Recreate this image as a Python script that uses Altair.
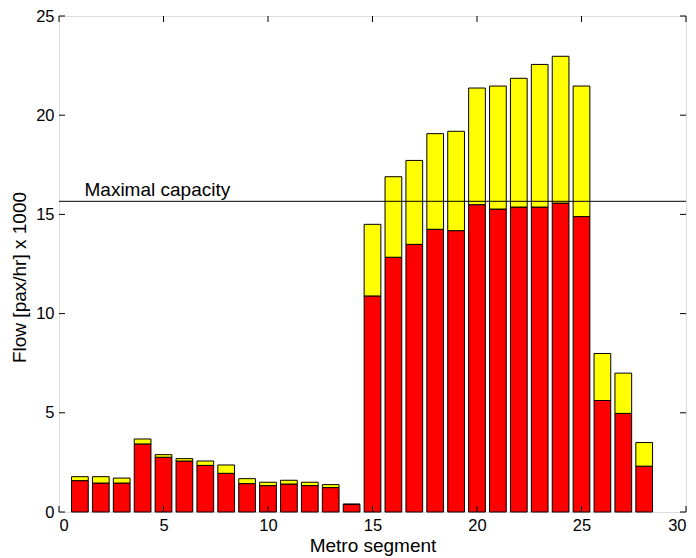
import altair as alt
import pandas as pd

segments = list(range(1, 29))
red_vals = [1.58, 1.46, 1.46, 3.43, 2.76, 2.57, 2.35, 1.95, 1.43, 1.33, 1.41, 1.33, 1.23, 0.39,
            10.89, 12.84, 13.49, 14.25, 14.18, 15.49, 15.27, 15.37, 15.37, 15.57, 14.89,
            5.62, 4.97, 2.31]
total_vals = [1.78, 1.78, 1.71, 3.68, 2.89, 2.69, 2.57, 2.37, 1.68, 1.50, 1.60, 1.50, 1.38, 0.39,
              14.50, 16.90, 17.72, 19.07, 19.19, 21.37, 21.47, 21.86, 22.56, 22.97, 21.47,
              7.99, 7.00, 3.50]
capacity = 15.66
capacity_label = "Maximal capacity"
x_ticks = [0, 5, 10, 15, 20, 25, 30]
y_ticks = [0, 5, 10, 15, 20, 25]
bar_half = 0.4

df = pd.DataFrame({"seg": segments, "red": red_vals, "total": total_vals})
df["x0"] = df["seg"] - bar_half
df["x1"] = df["seg"] + bar_half
df["zero"] = 0.0

FONT = "Liberation Sans"
W, H = 627, 496
xs = alt.Scale(domain=[0, 30], nice=False, zero=False)
ys = alt.Scale(domain=[0, 25], nice=False)

base = alt.Chart(df)

yellow = base.mark_bar(color="#ffff00", stroke="black", strokeWidth=1).encode(
    x=alt.X("x0:Q", scale=xs,
            axis=alt.Axis(values=x_ticks, title="Metro segment", grid=False, tickSize=0,
                          domain=False, labelPadding=5, labelFontSize=16.5, titleFontSize=19,
                          labelFont=FONT, titleFont=FONT, titleFontWeight="normal",
                          labelColor="black", titleColor="black", titlePadding=3)),
    x2="x1:Q",
    y=alt.Y("red:Q", scale=ys,
            axis=alt.Axis(values=y_ticks, title="Flow [pax/hr] x 1000", grid=False, tickSize=0,
                          domain=False, labelPadding=5, labelFontSize=16.5, titleFontSize=19,
                          labelFont=FONT, titleFont=FONT, titleFontWeight="normal",
                          labelColor="black", titleColor="black", titlePadding=6,
                          titleY=261)),
    y2="total:Q",
)

red = base.mark_bar(color="#ff0000", stroke="black", strokeWidth=1).encode(
    x=alt.X("x0:Q", scale=xs), x2="x1:Q",
    y=alt.Y("zero:Q", scale=ys), y2="red:Q",
)

cap_df = pd.DataFrame({"y": [capacity], "label": [capacity_label], "lx": [1.22]})
cap_line = alt.Chart(cap_df).mark_rule(color="black", strokeWidth=1).encode(
    y=alt.Y("y:Q", scale=ys))
cap_text = alt.Chart(cap_df).mark_text(
    align="left", baseline="alphabetic", dy=-5, fontSize=19, font=FONT, color="black"
).encode(x=alt.X("lx:Q", scale=xs), y=alt.Y("y:Q", scale=ys), text="label:N")

# inward ticks (MATLAB-style box)
xt = pd.DataFrame({"v": x_ticks})
yt = pd.DataFrame({"v": y_ticks})
xtick_b = alt.Chart(xt).mark_rule(color="black").encode(
    x=alt.X("v:Q", scale=xs), y=alt.value(H), y2=alt.value(H - 6))
xtick_t = alt.Chart(xt).mark_rule(color="black").encode(
    x=alt.X("v:Q", scale=xs), y=alt.value(0), y2=alt.value(6))
ytick_l = alt.Chart(yt).mark_rule(color="black").encode(
    y=alt.Y("v:Q", scale=ys), x=alt.value(0), x2=alt.value(6))
ytick_r = alt.Chart(yt).mark_rule(color="black").encode(
    y=alt.Y("v:Q", scale=ys), x=alt.value(W), x2=alt.value(W - 6))

chart = alt.layer(red, yellow, cap_line, cap_text, xtick_b, xtick_t, ytick_l, ytick_r).properties(
    width=W, height=H,
    autosize=alt.AutoSizeParams(type="none"),
    padding={"left": 51, "top": 8, "right": 2, "bottom": 46},
).configure_view(stroke="black", strokeWidth=1).configure(background="white")

chart.save("out.html", embed_options={"renderer": "svg", "actions": False})
